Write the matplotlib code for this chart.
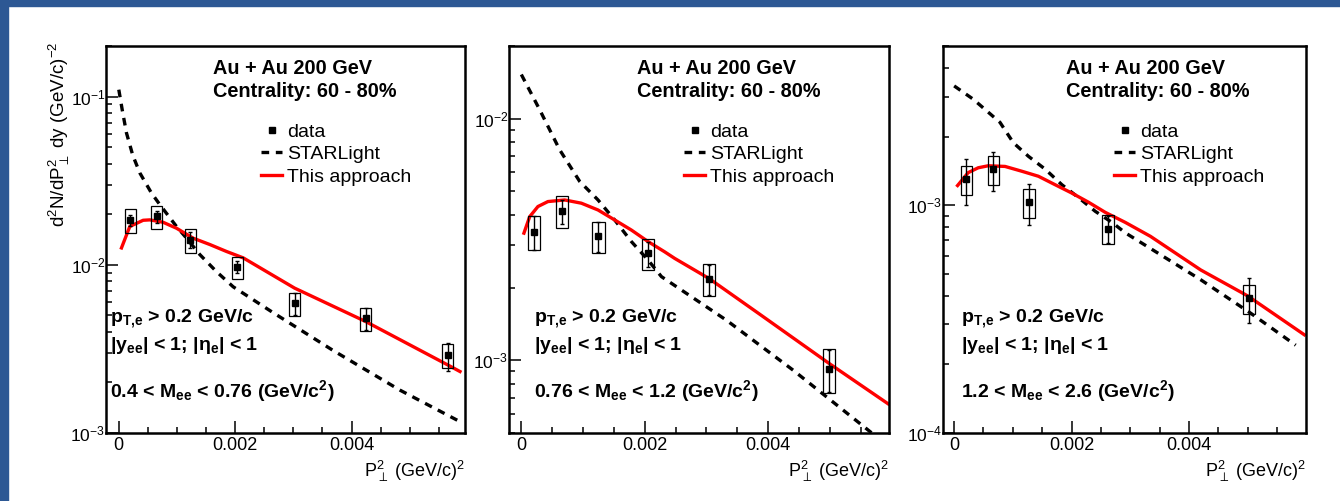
import numpy as np
import matplotlib
matplotlib.use('Agg')
import matplotlib.pyplot as plt
from matplotlib.ticker import MultipleLocator, FuncFormatter, LogLocator, NullFormatter
from matplotlib.patches import Rectangle

plt.rcParams['font.family'] = ['Liberation Sans', 'DejaVu Sans']
plt.rcParams['mathtext.fontset'] = 'custom'
plt.rcParams['mathtext.rm'] = 'Liberation Sans'
plt.rcParams['mathtext.it'] = 'Liberation Sans:italic'
plt.rcParams['mathtext.bf'] = 'Liberation Sans:bold'

# ---- panel 1: 0.4 < Mee < 0.76
p1_x = [0.0002, 0.00065, 0.00123, 0.00204, 0.00302, 0.00424, 0.00565]
p1_y = [0.0185, 0.0194, 0.0141, 0.0097, 0.0059, 0.0048, 0.0029]
p1_stat = [0.0014, 0.0016, 0.0015, 0.00082, 0.00089, 0.00072, 0.00055]
p1_sys = [0.0030, 0.0031, 0.0023, 0.00148, 0.00093, 0.00076, 0.00047]
p1_sl_x = [0.0, 0.00006, 0.000132, 0.00024, 0.000361, 0.000562, 0.000705, 0.000992, 0.001164,
           0.001393, 0.00168, 0.001966, 0.00265, 0.00368, 0.00483, 0.00586]
p1_sl_y = [0.110, 0.083, 0.0608, 0.0448, 0.0352, 0.0267, 0.0228, 0.0169, 0.0144,
           0.0115, 0.0091, 0.0074, 0.0052, 0.0031, 0.0018, 0.00117]
p1_th_x = [0.000046, 0.000189, 0.000418, 0.000533, 0.000762, 0.000992, 0.001278, 0.001565,
           0.001852, 0.002138, 0.003021, 0.004243, 0.005653, 0.005864]
p1_th_y = [0.0126, 0.0169, 0.0184, 0.0185, 0.0179, 0.0165, 0.0144, 0.0132,
           0.0120, 0.0110, 0.00727, 0.0046, 0.00254, 0.00232]

# ---- panel 2: 0.76 < Mee < 1.2
p2_x = [0.0002, 0.00066, 0.00125, 0.00205, 0.00304, 0.00499]
p2_y = [0.0034, 0.00415, 0.00327, 0.00277, 0.00217, 0.00092]
p2_stat = [0.00055, 0.00048, 0.00045, 0.00033, 0.00031, 0.00018]
p2_sys = [0.00055, 0.00062, 0.00048, 0.00041, 0.00033, 0.00019]
p2_sl_x = [0.0, 0.000297, 0.000621, 0.000946, 0.001243, 0.001513, 0.001784, 0.002054,
           0.002271, 0.003325, 0.004406, 0.005677, 0.00596]
p2_sl_y = [0.01524, 0.0109, 0.00744, 0.0055, 0.00461, 0.00381, 0.0031, 0.0026,
           0.00222, 0.001465, 0.00091, 0.000501, 0.00044]
p2_th_x = [0.000042, 0.000135, 0.000269, 0.000431, 0.000702, 0.000973, 0.001243, 0.001513,
           0.001784, 0.002054, 0.002325, 0.002487, 0.003043, 0.003866, 0.00499, 0.005947]
p2_th_y = [0.00336, 0.00393, 0.00433, 0.00454, 0.00461, 0.00447, 0.00419, 0.00381,
           0.00346, 0.0031, 0.00281, 0.00264, 0.00218, 0.00155, 0.00097, 0.00066]

# ---- panel 3: 1.2 < Mee < 2.6
p3_x = [0.00021, 0.00067, 0.00127, 0.00262, 0.00502]
p3_y = [0.0013, 0.00144, 0.00103, 0.00079, 0.00039]
p3_stat = [0.0003, 0.00028, 0.000215, 0.00011, 0.000087]
p3_sys = [0.00019, 0.00021, 0.00015, 0.000112, 0.000057]
p3_sl_x = [0.0, 0.000325, 0.000781, 0.001009, 0.001265, 0.00155, 0.001836, 0.00212,
           0.002405, 0.002691, 0.002918, 0.0042, 0.00505, 0.005819]
p3_sl_y = [0.00334, 0.00292, 0.00231, 0.00188, 0.00164, 0.00144, 0.00123, 0.00108,
           0.00094, 0.00084, 0.000756, 0.000471, 0.000336, 0.000243]
p3_th_x = [0.000058, 0.000239, 0.00041, 0.000581, 0.000867, 0.001152, 0.001436, 0.001721,
           0.002007, 0.002291, 0.002576, 0.002918, 0.003345, 0.0042, 0.005, 0.005966]
p3_th_y = [0.00122, 0.00139, 0.00146, 0.00149, 0.00148, 0.00141, 0.00134, 0.00123,
           0.00113, 0.00103, 0.00093, 0.00084, 0.00073, 0.00052, 0.0004, 0.00027]

mass_labels = ['0.4 < M$_{\\mathbf{ee}}$ < 0.76 (GeV/c$^{\\mathbf{2}}$)',
               '0.76 < M$_{\\mathbf{ee}}$ < 1.2 (GeV/c$^{\\mathbf{2}}$)',
               '1.2 < M$_{\\mathbf{ee}}$ < 2.6 (GeV/c$^{\\mathbf{2}}$)']

W, H = 1340, 501
fig = plt.figure(figsize=(W / 100, H / 100), dpi=100)
fig.patch.set_facecolor('white')


def fx(px):
    return px / W


def fy(py):
    return 1 - py / H


blue = '#2d5894'
fig.patches.append(Rectangle((0, 0), fx(8), 1, transform=fig.transFigure, color=blue, zorder=-10))
fig.patches.append(Rectangle((0, fy(6)), 1, 6 / H, transform=fig.transFigure, color=blue, zorder=-10))

# axes boxes in pixels: left, right, top, bottom
boxes = [(106, 465, 46, 433), (509, 889, 46, 433), (943, 1306, 46, 433)]
xlims = [(-0.00022, 0.00595), (-0.0002, 0.00596), (-0.00019, 0.005995)]
ylims = [(1e-3, 0.2), (5e-4, 2e-2), (1e-4, 5e-3)]
header_x = [213, 637, 1066]
legend_x = [261, 684, 1114]
note_x = [110, 534, 961]

panels = [
    (p1_x, p1_y, p1_stat, p1_sys, p1_sl_x, p1_sl_y, p1_th_x, p1_th_y),
    (p2_x, p2_y, p2_stat, p2_sys, p2_sl_x, p2_sl_y, p2_th_x, p2_th_y),
    (p3_x, p3_y, p3_stat, p3_sys, p3_sl_x, p3_sl_y, p3_th_x, p3_th_y),
]

for i, (x, y, stat, sys, slx, sly, thx, thy) in enumerate(panels):
    l, r, t, b = boxes[i]
    ax = fig.add_axes([fx(l), fy(b), (r - l) / W, (b - t) / H])
    ax.set_yscale('log')

    sl, = ax.plot(slx, sly, color='black', lw=2.4, ls='--', dashes=(2.3, 2.0), zorder=2)
    th, = ax.plot(thx, thy, color='red', lw=2.4, zorder=2)

    x = np.array(x)
    y = np.array(y)
    sys = np.array(sys)
    ax.bar(x, 2 * sys, bottom=y - sys, width=0.0002, fill=False,
           edgecolor='black', linewidth=0.9, zorder=3)
    ax.errorbar(x, y, yerr=stat, fmt='none', ecolor='black', elinewidth=1.0,
                capsize=1.5, capthick=1.0, zorder=4)
    dat, = ax.plot(x, y, 's', color='black', markersize=4.5, zorder=5)

    ax.set_xlim(*xlims[i])
    ax.set_ylim(*ylims[i])

    ax.xaxis.set_major_locator(MultipleLocator(0.002))
    ax.xaxis.set_minor_locator(MultipleLocator(0.0005))
    ax.xaxis.set_major_formatter(FuncFormatter(lambda v, p: '0' if abs(v) < 1e-12 else f'{v:g}'))
    ax.yaxis.set_major_locator(LogLocator(base=10, numticks=10))
    ax.yaxis.set_minor_locator(LogLocator(base=10, subs=np.arange(2, 10), numticks=100))
    ax.yaxis.set_minor_formatter(NullFormatter())

    ax.tick_params(which='both', direction='in', top=False, right=False, width=1.1, colors='black')
    ax.tick_params(which='major', length=8.6, labelsize=13, pad=3)
    ax.tick_params(axis='y', which='major', pad=0.5, labelsize=12.5)
    ax.tick_params(which='minor', length=4.3)
    for s in ax.spines.values():
        s.set_linewidth(1.8)

    # x label, right aligned at end of axis
    fig.text(fx(r), fy(477), '$\\mathrm{P}_{\\perp}^{2}$ (GeV/c)$^{2}$',
             ha='right', va='baseline', fontsize=13)

    # header
    fig.text(fx(header_x[i]), fy(74), 'Au + Au 200 GeV', fontsize=14.3,
             fontweight='bold', va='baseline')
    fig.text(fx(header_x[i]), fy(96.7), 'Centrality: 60 - 80%', fontsize=14.3,
             fontweight='bold', va='baseline')

    ax.legend([dat, sl, th], ['data', 'STARLight', 'This approach'],
              loc='upper left', bbox_to_anchor=(fx(legend_x[i]), fy(123)),
              bbox_transform=fig.transFigure, frameon=False, fontsize=14,
              handlelength=1.1, handletextpad=0.25, labelspacing=0.26,
              borderpad=0, borderaxespad=0, numpoints=1)

    # cuts
    fig.text(fx(note_x[i]), fy(322), 'p$_{\\mathbf{T{,}e}}$ > 0.2 GeV/c', fontsize=14,
             fontweight='bold', va='baseline')
    fig.text(fx(note_x[i]), fy(350), '|y$_{\\mathbf{ee}}$| < 1; |η$_{\\mathbf{e}}$| < 1', fontsize=14,
             fontweight='bold', va='baseline')
    fig.text(fx(note_x[i]), fy(397), mass_labels[i], fontsize=14,
             fontweight='bold', va='baseline')

fig.text(fx(59), fy(42), 'd$^{2}$N/d$\\mathrm{P}_{\\perp}^{2}$ dy (GeV/c)$^{-2}$',
         rotation=90, ha='center', va='top', fontsize=13.5)

fig.savefig('out.png', dpi=100, facecolor=fig.get_facecolor())
